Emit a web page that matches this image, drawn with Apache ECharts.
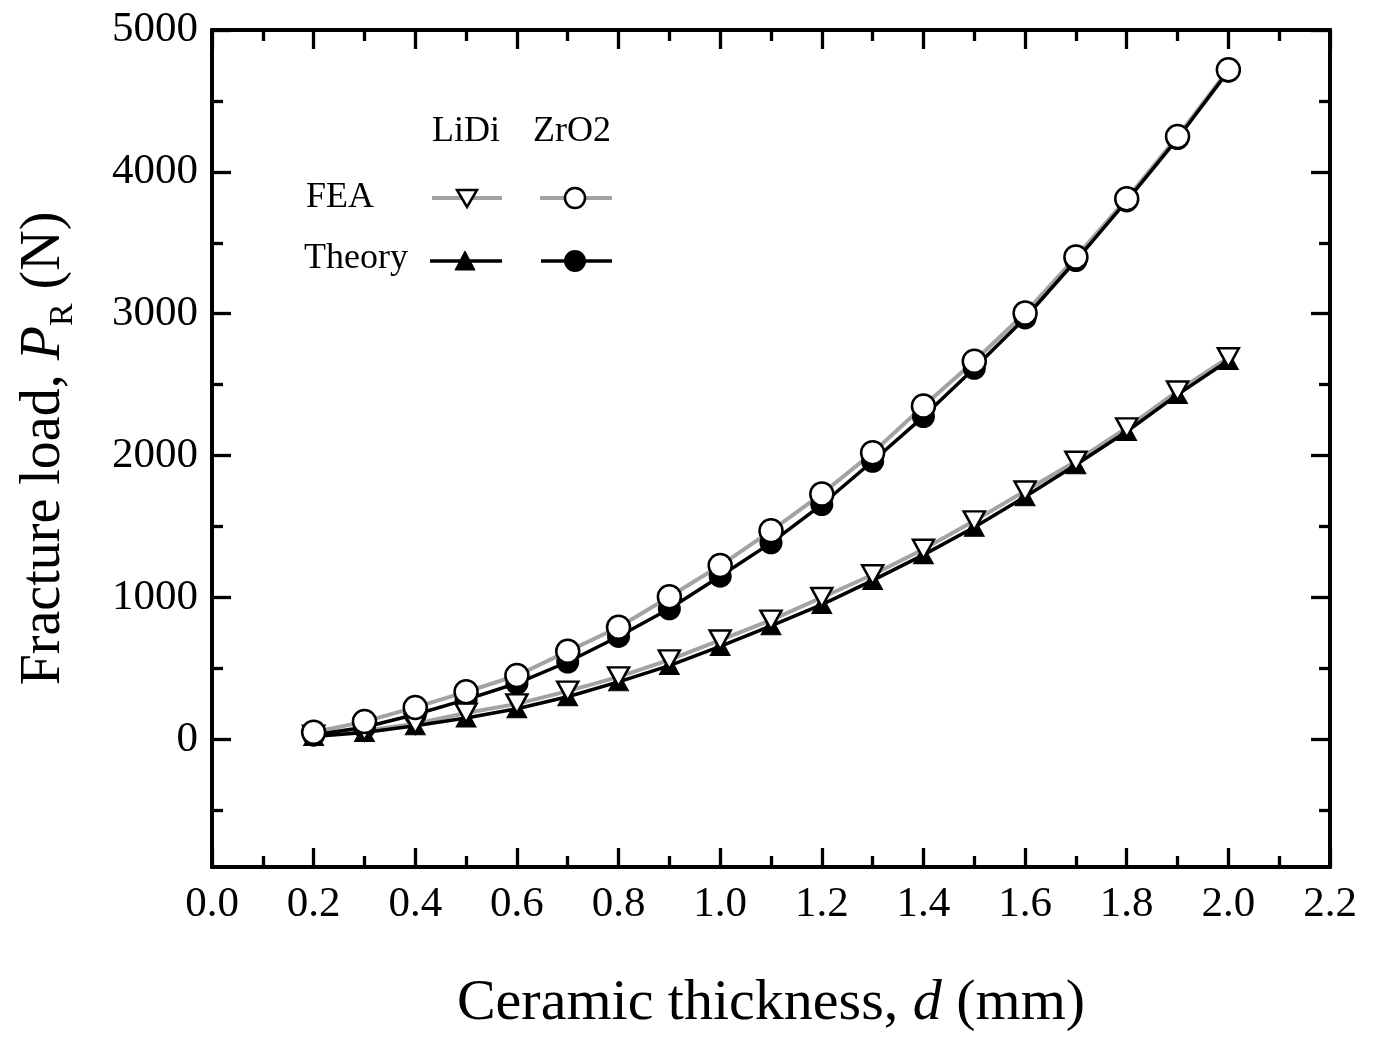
<!DOCTYPE html>
<html>
<head>
<meta charset="utf-8">
<script src="https://cdn.jsdelivr.net/npm/echarts@6/dist/echarts.min.js"></script>
<style>
html,body{margin:0;padding:0;background:#fff;overflow:hidden;}
#chart{width:1376px;height:1038px;}
</style>
</head>
<body>
<div id="chart"></div>
<script>
// ---- data ----
var thickness = [0.2,0.3,0.4,0.5,0.6,0.7,0.8,0.9,1.0,1.1,1.2,1.3,1.4,1.5,1.6,1.7,1.8,1.9,2.0];
var lidiFEA    = [30, 60, 110, 185, 250, 340, 440, 560, 700, 840, 1000, 1160, 1340, 1540, 1750, 1960, 2195, 2455, 2690];
var lidiTheory = [20, 48, 95, 150, 215, 300, 405, 520, 655, 800, 950, 1120, 1300, 1495, 1710, 1935, 2170, 2430, 2670];
var zro2FEA    = [50, 125, 225, 335, 450, 620, 790, 1005, 1225, 1470, 1730, 2020, 2350, 2665, 3005, 3400, 3810, 4250, 4720];
var zro2Theory = [30, 85, 175, 280, 395, 545, 725, 920, 1150, 1385, 1655, 1960, 2275, 2615, 2970, 3375, 3795, 4235, 4710];
var yMajorTicks = [0, 1000, 2000, 3000, 4000, 5000];
var yMinorTicks = [-500, 500, 1500, 2500, 3500, 4500];
var columnLabels = ['LiDi', 'ZrO2'];
var rowLabels = ['FEA', 'Theory'];

function pairs(ys){ return thickness.map(function(x,i){ return [x, ys[i]]; }); }

var FONT = 'Liberation Serif';
var BLACK = '#000';
var GRAY = '#a3a3a3';

function yAx(pos, customVals, len, labels){
  return {
    type:'value', position:pos, min:-900, max:5000, offset:0,
    axisLine:{show:true, onZero:false, lineStyle:{color:BLACK, width:4}},
    axisTick:{show:true, inside:true, length:len, customValues:customVals, lineStyle:{color:BLACK, width:3.3}},
    axisLabel:{show:labels, customValues:customVals, color:BLACK, fontFamily:FONT, fontSize:43, margin:14,
      formatter:function(v){ return String(v); }},
    splitLine:{show:false},
    name: labels ? '{n|Fracture load, }{i|P}{s|R}{n| (N)}' : '',
    nameLocation:'middle', nameGap:140,
    nameTextStyle:{ rich:{
      n:{fontFamily:FONT, fontSize:56, color:BLACK},
      i:{fontFamily:FONT, fontSize:56, fontStyle:'italic', color:BLACK},
      s:{fontFamily:FONT, fontSize:34, color:BLACK, verticalAlign:'bottom', padding:[0,0,-8,0]}
    }}
  };
}
function xAx(pos, labels){
  return {
    type:'value', position:pos, min:0, max:2.2, interval:0.2,
    axisLine:{show:true, onZero:false, lineStyle:{color:BLACK, width:4}},
    axisTick:{show:true, inside:true, length:19, lineStyle:{color:BLACK, width:3.3}},
    minorTick:{show:true, splitNumber:2, length:11, lineStyle:{color:BLACK, width:3.3}},
    axisLabel:{show:labels, color:BLACK, fontFamily:FONT, fontSize:43, margin:16,
      formatter:function(v){ return v.toFixed(1); }},
    splitLine:{show:false}, minorSplitLine:{show:false},
    name: labels ? '{n|Ceramic thickness, }{i|d}{n| (mm)}' : '',
    nameLocation:'middle', nameGap:108,
    nameTextStyle:{ rich:{
      n:{fontFamily:FONT, fontSize:58, color:BLACK},
      i:{fontFamily:FONT, fontSize:58, fontStyle:'italic', color:BLACK}
    }}
  };
}

// legend graphics (not data marks)
var leg = [];
function txt(x,y,s){ leg.push({type:'text', style:{x:x, y:y, text:s, font:'36px "Liberation Serif"', fill:BLACK, textAlign:'center', textVerticalAlign:'middle'}}); }
txt(466,132,columnLabels[0]); txt(572,132,columnLabels[1]);
txt(340,198,rowLabels[0]); txt(356,259,rowLabels[1]);
leg.push({type:'line', shape:{x1:432,y1:198,x2:502,y2:198}, style:{stroke:GRAY, lineWidth:4}});
leg.push({type:'line', shape:{x1:540,y1:198,x2:612,y2:198}, style:{stroke:GRAY, lineWidth:4}});
leg.push({type:'line', shape:{x1:430,y1:261,x2:502,y2:261}, style:{stroke:BLACK, lineWidth:3.5}});
leg.push({type:'line', shape:{x1:541,y1:261,x2:612,y2:261}, style:{stroke:BLACK, lineWidth:3.5}});
leg.push({type:'polygon', shape:{points:[[457,190],[477,190],[467,207]]}, style:{fill:'#fff', stroke:BLACK, lineWidth:2.5}});
leg.push({type:'circle', shape:{cx:575,cy:198,r:10}, style:{fill:'#fff', stroke:BLACK, lineWidth:2.5}});
leg.push({type:'polygon', shape:{points:[[455,270],[475,270],[465,251]]}, style:{fill:BLACK, stroke:BLACK, lineWidth:1}});
leg.push({type:'circle', shape:{cx:575,cy:261,r:11}, style:{fill:BLACK}});

var chart = echarts.init(document.getElementById('chart'), null, {renderer:'canvas'});
chart.setOption({
  backgroundColor:'#fff',
  animation:false,
  grid:{left:212, width:1118, top:30, height:844, containLabel:false},
  xAxis:[xAx('bottom', true), xAx('top', false)],
  yAxis:[yAx('left', yMajorTicks, 19, true), yAx('left', yMinorTicks, 11, false),
         yAx('right', yMajorTicks, 19, false), yAx('right', yMinorTicks, 11, false)],
  graphic: leg,
  series:[
    {name:'LiDi FEA line', type:'line', data:pairs(lidiFEA), symbol:'none', z:2, lineStyle:{color:GRAY, width:4}},
    {name:'ZrO2 FEA line', type:'line', data:pairs(zro2FEA), symbol:'none', z:2, lineStyle:{color:GRAY, width:4}},
    {name:'LiDi Theory line', type:'line', data:pairs(lidiTheory), symbol:'none', z:3, lineStyle:{color:BLACK, width:3.5}},
    {name:'ZrO2 Theory line', type:'line', data:pairs(zro2Theory), symbol:'none', z:3, lineStyle:{color:BLACK, width:3.5}},
    {name:'LiDi Theory', type:'scatter', data:pairs(lidiTheory), z:4, symbol:'triangle', symbolSize:[20,18],
      itemStyle:{color:BLACK, borderColor:BLACK, borderWidth:1, opacity:1}},
    {name:'ZrO2 Theory', type:'scatter', data:pairs(zro2Theory), z:4, symbol:'circle', symbolSize:23,
      itemStyle:{color:BLACK, opacity:1}},
    {name:'LiDi FEA', type:'scatter', data:pairs(lidiFEA), z:5, symbol:'triangle', symbolRotate:180, symbolSize:[21,19],
      itemStyle:{color:'#fff', borderColor:BLACK, borderWidth:2.5, opacity:1}},
    {name:'ZrO2 FEA', type:'scatter', data:pairs(zro2FEA), z:5, symbol:'circle', symbolSize:23,
      itemStyle:{color:'#fff', borderColor:BLACK, borderWidth:2.5, opacity:1}}
  ]
});
</script>
</body>
</html>
